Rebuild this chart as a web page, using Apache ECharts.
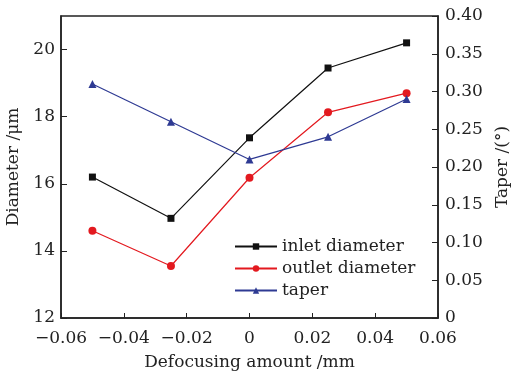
<!DOCTYPE html>
<html>
<head>
<meta charset="utf-8">
<script src="https://cdn.jsdelivr.net/npm/echarts@6/dist/echarts.min.js"></script>
<style>
  html, body { margin: 0; padding: 0; background: #fff; }
  #chart { width: 511px; height: 378px; }
</style>
</head>
<body>
<div id="chart"></div>
<script>
// data
var defocus = [-0.05, -0.025, 0, 0.025, 0.05];
var inletDiameter = [16.2, 14.97, 17.37, 19.45, 20.2];
var outletDiameter = [14.6, 13.55, 16.18, 18.13, 18.7];
var taper = [0.31, 0.26, 0.21, 0.24, 0.29];

function pairs(xs, ys) {
    return xs.map(function (x, i) { return [x, ys[i]]; });
}

var FONT = 'DejaVu Serif';
var INK = '#222';
var FS = 17;

var myChart = echarts.init(document.getElementById('chart'));
var option = {
    animation: false,
    textStyle: { fontFamily: FONT, color: INK },
    grid: {
        left: 61,
        right: 73,
        top: 16,
        bottom: 60,
        containLabel: false,
        outerBoundsMode: 'none',
        show: true,
        borderColor: INK,
        borderWidth: 1.5,
        backgroundColor: 'transparent'
    },
    legend: {
        orient: 'vertical',
        left: 229,
        top: 233,
        itemGap: 5,
        itemWidth: 42,
        itemHeight: 8,
        textStyle: { fontFamily: FONT, fontSize: FS, color: INK },
        data: ['inlet diameter', 'outlet diameter', 'taper']
    },
    xAxis: {
        type: 'value',
        min: -0.06,
        max: 0.06,
        interval: 0.02,
        name: 'Defocusing amount /mm',
        nameLocation: 'middle',
        nameGap: 36,
        nameTextStyle: { fontFamily: FONT, fontSize: FS, color: INK },
        axisLine: { onZero: false, lineStyle: { color: INK, width: 1.5 } },
        axisTick: { inside: true, length: 5, lineStyle: { color: INK } },
        splitLine: { show: false },
        axisLabel: {
            margin: 12,
            fontFamily: FONT,
            fontSize: FS,
            color: INK,
            formatter: function (v) {
                if (Math.abs(v) < 1e-9) return '0';
                return (v < 0 ? '\u2212' : '') + Math.abs(v).toFixed(2);
            }
        }
    },
    yAxis: [{
        type: 'value',
        position: 'left',
        min: 12,
        max: 21,
        interval: 2,
        name: 'Diameter /\u03bcm',
        nameLocation: 'middle',
        nameRotate: 90,
        nameGap: 38,
        nameTextStyle: { fontFamily: FONT, fontSize: FS, color: INK },
        axisLine: { show: true, onZero: false, lineStyle: { color: INK, width: 1.5 } },
        axisTick: { show: true, inside: true, length: 6, lineStyle: { color: INK } },
        splitLine: { show: false },
        axisLabel: {
            margin: 6,
            fontFamily: FONT,
            fontSize: FS,
            color: INK,
            showMaxLabel: false
        }
    }, {
        type: 'value',
        position: 'right',
        min: 0,
        max: 0.4,
        interval: 0.05,
        name: 'Taper /(\u00b0)',
        nameLocation: 'middle',
        nameRotate: 90,
        nameGap: 52,
        nameTextStyle: { fontFamily: FONT, fontSize: FS, color: INK },
        axisLine: { show: true, onZero: false, lineStyle: { color: INK, width: 1.5 } },
        axisTick: { show: true, inside: true, length: 6, lineStyle: { color: INK } },
        splitLine: { show: false },
        axisLabel: {
            margin: 7,
            fontFamily: FONT,
            fontSize: FS,
            color: INK,
            formatter: function (v) {
                if (Math.abs(v) < 1e-9) return '0';
                return v.toFixed(2);
            }
        }
    }],
    series: [{
        name: 'inlet diameter',
        type: 'line',
        yAxisIndex: 0,
        data: pairs(defocus, inletDiameter),
        symbol: 'rect',
        symbolSize: 7,
        lineStyle: { color: '#111', width: 1.2 },
        itemStyle: { color: '#111' }
    }, {
        name: 'outlet diameter',
        type: 'line',
        yAxisIndex: 0,
        data: pairs(defocus, outletDiameter),
        symbol: 'circle',
        symbolSize: 8,
        lineStyle: { color: '#e3191f', width: 1.2 },
        itemStyle: { color: '#e3191f' }
    }, {
        name: 'taper',
        type: 'line',
        yAxisIndex: 1,
        data: pairs(defocus, taper),
        symbol: 'triangle',
        symbolSize: 8,
        lineStyle: { color: '#2e3a93', width: 1.2 },
        itemStyle: { color: '#2e3a93' }
    }]
};
option && myChart.setOption(option);
</script>
</body>
</html>
